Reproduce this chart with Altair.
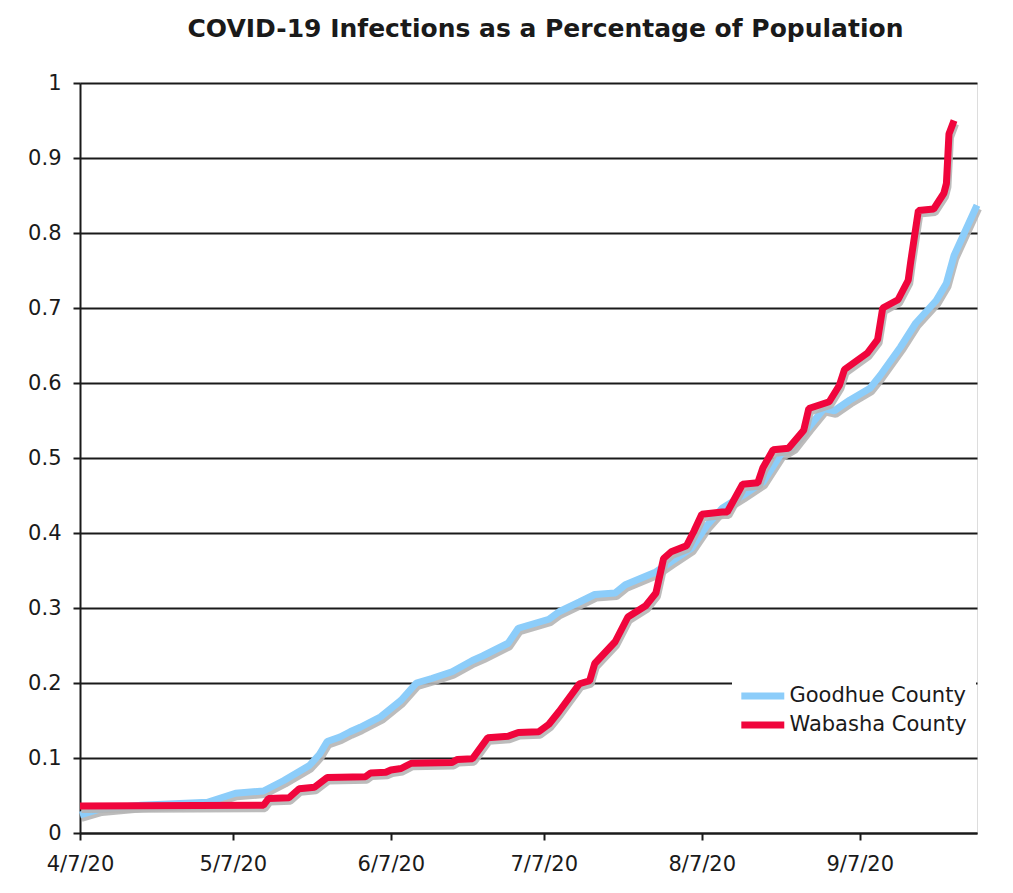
import altair as alt
import pandas as pd

# ---- data (day offset from 4/7/2020, % of population) ----
goodhue_day = [0, 4, 12, 25, 30.5, 36, 40, 41, 45, 47,
               48.5, 51, 53, 55, 59, 61, 63, 66, 69, 73,
               77, 79, 84, 86, 92, 94, 98, 101, 105, 107,
               113, 116, 120, 123, 126, 130, 134, 137.5, 140, 143,
               146, 148, 151, 155, 157, 161, 164, 168, 170, 171.5,
               176]
goodhue_pct = [0.024, 0.032, 0.037, 0.041, 0.053, 0.056, 0.070, 0.074, 0.090, 0.105,
               0.122, 0.128, 0.135, 0.141, 0.155, 0.166, 0.177, 0.200, 0.206, 0.215,
               0.230, 0.236, 0.253, 0.273, 0.285, 0.295, 0.308, 0.318, 0.320, 0.331,
               0.348, 0.362, 0.380, 0.410, 0.433, 0.450, 0.468, 0.505, 0.515, 0.541,
               0.566, 0.563, 0.577, 0.593, 0.610, 0.648, 0.680, 0.710, 0.733, 0.770,
               0.837]

wabasha_day = [0, 36, 37, 41, 43, 46, 48.5, 56, 57, 60,
               61, 63, 65, 73, 74, 77, 80, 84, 86, 90,
               92, 94, 98, 100, 101, 105, 107.5, 111, 113, 114.5,
               116, 119, 120.5, 122, 126, 127, 130, 133, 134, 136,
               139, 142, 143, 147, 149, 150, 154.5, 156.5, 157.5, 160.5,
               162.5, 163, 164.5, 167.5, 169.5, 170, 170.5, 171.5]
wabasha_pct = [0.036, 0.037, 0.046, 0.047, 0.059, 0.061, 0.074, 0.075, 0.080, 0.081,
               0.084, 0.086, 0.093, 0.094, 0.098, 0.099, 0.127, 0.129, 0.134, 0.135,
               0.145, 0.162, 0.199, 0.203, 0.226, 0.255, 0.288, 0.303, 0.320, 0.366,
               0.375, 0.383, 0.403, 0.425, 0.428, 0.428, 0.465, 0.467, 0.487, 0.511,
               0.513, 0.537, 0.566, 0.575, 0.597, 0.618, 0.640, 0.658, 0.700, 0.711,
               0.737, 0.762, 0.830, 0.832, 0.853, 0.866, 0.932, 0.950]

counties = ["Goodhue County", "Wabasha County"]
colors = ["#8CCDFA", "#F0053C"]
x_tick_months = [4, 5, 6, 7, 8, 9]
y_ticks = [0, 0.1, 0.2, 0.3, 0.4, 0.5, 0.6, 0.7, 0.8, 0.9, 1.0]

base = pd.Timestamp("2020-04-07")


def frame(name, days, pct):
    return pd.DataFrame({
        "county": name,
        "date": base + pd.to_timedelta(days, unit="D"),
        "pct": pct,
    })


df_g = frame(counties[0], goodhue_day, goodhue_pct)
df_w = frame(counties[1], wabasha_day, wabasha_pct)

FONT = "DejaVu Sans"
INK = "#1a1a1a"

x_enc = alt.X(
    "date:T",
    scale=alt.Scale(domain=[alt.DateTime(year=2020, month=4, date=7),
                            alt.DateTime(year=2020, month=9, date=30)]),
    axis=alt.Axis(
        values=[alt.DateTime(year=2020, month=m, date=7) for m in x_tick_months],
        format="%-m/%-d/%y", title=None, grid=False,
        labelFlush=False, labelOverlap=False, labelBound=False,
        tickSize=7, tickWidth=2, tickColor=INK,
        domainColor=INK, domainWidth=2,
        labelFont=FONT, labelFontSize=21, labelColor=INK, labelPadding=13,
    ),
)
y_enc = alt.Y(
    "pct:Q",
    scale=alt.Scale(domain=[0, 1], nice=False),
    axis=alt.Axis(
        values=y_ticks, labelExpr="format(datum.value, '.1~f')", title=None,
        grid=True, gridColor=INK, gridWidth=2,
        tickSize=7, tickWidth=2, tickColor=INK,
        domainColor=INK, domainWidth=2,
        labelFont=FONT, labelFontSize=21, labelColor=INK, labelPadding=12,
    ),
)
color_enc = alt.Color(
    "county:N",
    scale=alt.Scale(domain=counties, range=colors),
    legend=alt.Legend(
        title=None, orient="none", legendX=652, legendY=593,
        fillColor="white", padding=9, rowPadding=1,
        symbolType="M-3,0H3", symbolSize=205, symbolStrokeWidth=7,
        symbolOffset=10.8, labelOffset=15.7, labelLimit=400,
        labelFont=FONT, labelFontSize=21, labelColor=INK,
    ),
)


def shadow(df):
    return alt.Chart(df).mark_line(
        color="#b5b5b5", strokeWidth=7, xOffset=1.5, yOffset=3.5,
        strokeJoin="bevel", opacity=0.9,
    ).encode(x=x_enc, y=y_enc)


def line(df):
    return alt.Chart(df).mark_line(strokeWidth=7, strokeJoin="bevel").encode(
        x=x_enc, y=y_enc, color=color_enc
    )


chart = alt.layer(
    shadow(df_g), line(df_g), shadow(df_w), line(df_w)
).properties(
    width=897, height=750,
    autosize=alt.AutoSizeParams(type="none"),
    padding={"left": 72, "top": 75, "right": 20, "bottom": 55},
    title=alt.TitleParams(
        "COVID-19 Infections as a Percentage of Population",
        font=FONT, fontSize=25, fontWeight="bold", color=INK,
        anchor="middle", frame="group", dx=17, offset=30,
    ),
).configure_view(stroke=INK, strokeWidth=2).configure(background="white")

chart.save("out.html", embed_options={"renderer": "svg", "actions": False})
